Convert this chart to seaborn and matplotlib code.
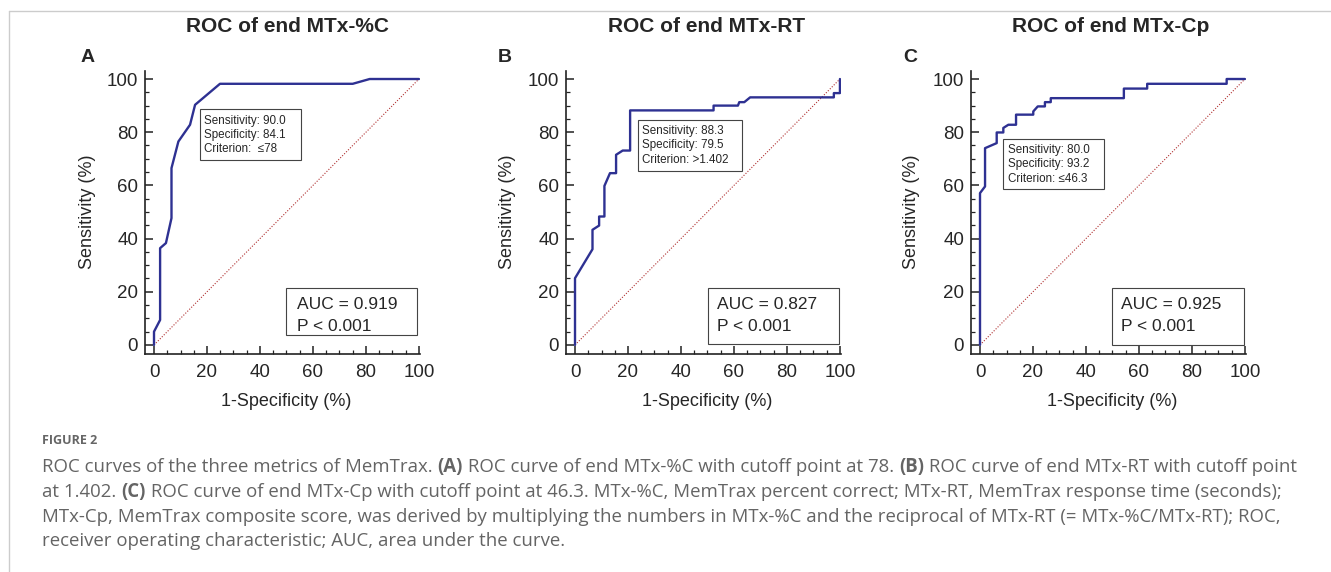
import seaborn as sns
import matplotlib.pyplot as plt
import numpy as np
import pandas as pd
from matplotlib.patches import Rectangle
from matplotlib.ticker import MultipleLocator

# ROC curve points (1-specificity %, sensitivity %)
fpr_a = [0, 0, 2.3, 2.3, 4.5, 6.6, 6.6, 9.2, 13.6, 15.5, 24.9, 75.0, 81.4, 100]
tpr_a = [0, 5.0, 9.4, 36.4, 38.3, 47.7, 66.5, 76.5, 82.8, 90.3, 98.2, 98.2, 100, 100]

fpr_b = [0, 0, 6.6, 6.6, 9.1, 9.1, 11.1, 11.1, 13.2, 15.5, 15.5, 18.0, 20.8, 20.8,
         52.3, 52.3, 61.5, 62.0, 63.9, 66.1, 97.7, 97.7, 100, 100]
tpr_b = [0, 25.1, 36.0, 43.3, 44.9, 48.3, 48.3, 59.8, 64.6, 64.6, 71.5, 73.1, 73.1, 88.2,
         88.2, 90.0, 90.0, 91.3, 91.3, 93.1, 93.1, 94.7, 94.7, 100]

fpr_c = [0, 0, 1.9, 1.9, 6.3, 6.3, 8.8, 8.8, 10.7, 13.6, 13.6, 20.1, 20.1, 21.8, 24.5,
         24.5, 26.7, 26.7, 54.3, 54.3, 63.1, 63.1, 93.1, 93.1, 100]
tpr_c = [0, 57.1, 59.6, 74.0, 75.9, 79.9, 79.9, 81.6, 82.8, 82.8, 86.6, 86.6, 87.8, 89.7,
         89.7, 91.3, 91.3, 92.8, 92.8, 96.4, 96.4, 98.2, 98.2, 100, 100]

titles = ["ROC of end MTx-%C", "ROC of end MTx-RT", "ROC of end MTx-Cp"]
letters = ["A", "B", "C"]
auc_vals = ["0.919", "0.827", "0.925"]
p_vals = ["< 0.001", "< 0.001", "< 0.001"]
sens = ["90.0", "88.3", "80.0"]
spec = ["84.1", "79.5", "93.2"]
crit = ["Criterion:  \u226478", "Criterion: >1.402", "Criterion: \u226446.3"]

sns.set_style("ticks")
plt.rcParams["font.family"] = ["Liberation Sans", "DejaVu Sans"]

W, H = 1331, 572
fig = plt.figure(figsize=(W / 100, H / 100), dpi=100)

def fx(px):
    return px / W

def fy(py):
    return 1 - py / H

axes_left = [145, 566, 971]
# (box x, box y, box w, box h, text x, line ys)
info_boxes = [(17.3, 69.6, 38.1, 19.1, 18.8, [84.3, 79.0, 73.7]),
              (23.6, 65.5, 39.3, 19.2, 25.1, [80.6, 75.1, 69.7]),
              (8.8, 58.6, 38.0, 18.9, 10.4, [73.4, 68.0, 62.5])]
auc_boxes = [(50.0, 3.8, 49.4, 17.8, 53.8),
             (50.2, 0.4, 49.4, 21.2, 53.6),
             (49.9, 0.0, 49.8, 21.6, 53.3)]
curves = [(fpr_a, tpr_a), (fpr_b, tpr_b), (fpr_c, tpr_c)]
navy = "#2e3192"

for i in range(3):
    left = axes_left[i]
    ax = fig.add_axes([fx(left), fy(354), fx(275), (354 - 70.5) / H])
    df = pd.DataFrame({"fpr": curves[i][0], "tpr": curves[i][1]})
    ax.plot([0, 100], [0, 100], color="#b03030", lw=0.8, ls=(0, (1, 1.5)))
    sns.lineplot(data=df, x="fpr", y="tpr", sort=False, estimator=None,
                 color=navy, lw=1.7, ax=ax)
    ax.set_xlim(-3.4, 100.4)
    ax.set_ylim(-3.4, 103.2)
    ax.xaxis.set_major_locator(MultipleLocator(20))
    ax.yaxis.set_major_locator(MultipleLocator(20))
    ax.xaxis.set_minor_locator(MultipleLocator(5))
    ax.yaxis.set_minor_locator(MultipleLocator(5))
    ax.tick_params(which="major", direction="in", length=6, width=1.1,
                   labelsize=13.5, color="#222222")
    ax.tick_params(axis="y", which="major", pad=5)
    ax.tick_params(axis="x", which="major", pad=7)
    ax.tick_params(which="minor", direction="in", length=3, width=0.9, color="#222222")
    for s in ["top", "right"]:
        ax.spines[s].set_visible(False)
    for s in ["left", "bottom"]:
        ax.spines[s].set_linewidth(1.2)
        ax.spines[s].set_color("#222222")
    ax.set_xlabel("")
    ax.set_ylabel("")

    bx, by, bw, bh, tx, lys = info_boxes[i]
    ax.add_patch(Rectangle((bx, by), bw, bh, fill=True, facecolor="white",
                           edgecolor="#444444", lw=0.8, zorder=3))
    for txt, yy in zip(["Sensitivity: " + sens[i], "Specificity: " + spec[i], crit[i]], lys):
        ax.text(tx, yy, txt, fontsize=8.4, va="center", ha="left", zorder=4)

    ax_, ay_, aw_, ah_, atx = auc_boxes[i]
    ax.add_patch(Rectangle((ax_, ay_), aw_, ah_, fill=True, facecolor="white",
                           edgecolor="#444444", lw=0.8, zorder=3))
    ax.text(atx, 15.1, "AUC = " + auc_vals[i], fontsize=12.5, va="center", ha="left", zorder=4)
    ax.text(atx, 6.9, "P " + p_vals[i], fontsize=12.5, va="center", ha="left", zorder=4)

title_x = [288, 707, 1111]
letter_x = [88, 505, 910]
ylab_x = [87, 508, 912]
for i in range(3):
    fig.text(fx(title_x[i]), fy(27), titles[i], fontsize=15, fontweight="bold",
             ha="center", va="center")
    fig.text(fx(letter_x[i]), fy(58), letters[i], fontsize=14, fontweight="bold",
             ha="center", va="center")
    fig.text(fx(ylab_x[i]), fy(212), "Sensitivity (%)", fontsize=13, rotation=90,
             ha="center", va="center")
    fig.text(fx(axes_left[i] + 9 + 132), fy(401), "1-Specificity (%)", fontsize=13,
             ha="center", va="center")

# frame lines of the figure page
fig.add_artist(plt.Line2D([fx(9), 1], [fy(11), fy(11)], color="#cccccc", lw=1))
fig.add_artist(plt.Line2D([fx(9), fx(9)], [fy(11), 0], color="#cccccc", lw=1))

# caption
cap_family = ["Open Sans", "DejaVu Sans"]
cap_color = "#646464"
lines = [
    [("ROC curves of the three metrics of MemTrax. ", False), ("(A)", True),
     (" ROC curve of end MTx-%C with cutoff point at 78. ", False), ("(B)", True),
     (" ROC curve of end MTx-RT with cutoff point", False)],
    [("at 1.402. ", False), ("(C)", True),
     (" ROC curve of end MTx-Cp with cutoff point at 46.3. MTx-%C, MemTrax percent correct; MTx-RT, MemTrax response time (seconds);", False)],
    [("MTx-Cp, MemTrax composite score, was derived by multiplying the numbers in MTx-%C and the reciprocal of MTx-RT (= MTx-%C/MTx-RT); ROC,", False)],
    [("receiver operating characteristic; AUC, area under the curve.", False)],
]
renderer = fig.canvas.get_renderer()

# fit caption font size to the first line's width
probe = fig.text(0, 0, "".join(p[0] for p in lines[0]), fontsize=10, family=cap_family)
wpx = probe.get_window_extent(renderer).width
probe.remove()
cap_size = min(10 * 1248 / wpx, 14)

fig.text(fx(42), fy(440), "FIGURE 2", fontsize=9, fontweight="bold", color="#666666",
         family=cap_family, ha="left", va="center")
line_y = [467, 492, 517, 541]
for parts, yy in zip(lines, line_y):
    x = fx(42)
    for txt, bold in parts:
        t = fig.text(x, fy(yy), txt, fontsize=cap_size, color=cap_color, family=cap_family,
                     fontweight="bold" if bold else "normal", ha="left", va="center")
        x += t.get_window_extent(renderer).width / W

fig.savefig("out.png", dpi=100)
